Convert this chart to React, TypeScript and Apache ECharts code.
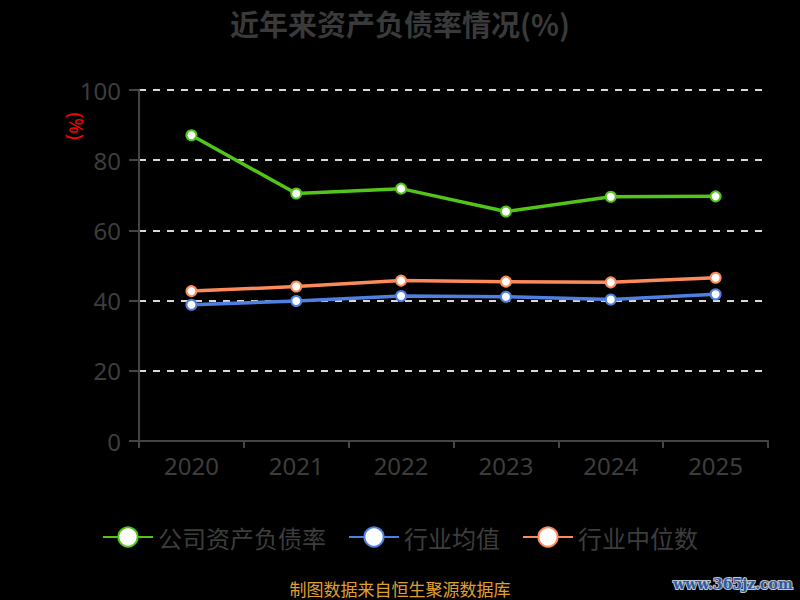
import React, { useEffect, useRef } from "react";
import * as echarts from "echarts";

const categories = ["2020", "2021", "2022", "2023", "2024", "2025"];
const companyRatio = [87.1, 70.5, 71.9, 65.4, 69.6, 69.7];
const industryAvg = [38.8, 39.9, 41.3, 41.1, 40.3, 41.8];
const industryMedian = [42.7, 44.0, 45.7, 45.4, 45.2, 46.5];
const seriesNames = ["公司资产负债率", "行业均值", "行业中位数"];
const seriesColors = ["#52c41a", "#4f80e1", "#fc8a5b"];

export default function App() {
  const ref = useRef<HTMLDivElement>(null);
  useEffect(() => {
    if (!ref.current) return;
    const chart = echarts.init(ref.current, null, { renderer: "svg" });
    const datasets = [companyRatio, industryAvg, industryMedian];
    chart.setOption({
      animation: false,
      backgroundColor: "#000000",
      title: {
        text: "近年来资产负债率情况(%)",
        left: "center",
        top: 3,
        textStyle: { color: "#3a3a3a", fontSize: 29, fontWeight: "bold", fontFamily: "Noto Sans CJK SC" },
      },
      legend: {
        data: seriesNames,
        left: "center",
        top: 520,
        itemWidth: 50,
        itemHeight: 24,
        itemGap: 22,
        textStyle: { color: "#3d3d3d", fontSize: 24, fontFamily: "Noto Sans CJK SC" },
      },
      grid: { left: 139, right: 32, top: 90, bottom: 159 },
      xAxis: {
        type: "category",
        data: categories,
        boundaryGap: true,
        axisLine: { lineStyle: { color: "#444444", width: 2 } },
        axisTick: { show: true, length: 7, lineStyle: { color: "#444444", width: 2 } },
        axisLabel: { color: "#3d3d3d", fontSize: 24, margin: 12, fontFamily: "Noto Sans" },
      },
      yAxis: {
        type: "value",
        min: 0,
        max: 100,
        interval: 20,
        axisLine: { show: true, lineStyle: { color: "#444444", width: 2 } },
        axisTick: { show: true, length: 10, lineStyle: { color: "#444444", width: 2 } },
        axisLabel: { color: "#3d3d3d", fontSize: 24, margin: 18, fontFamily: "Noto Sans" },
        splitLine: { show: true, lineStyle: { color: "#d8d8d8", type: [7, 7], width: 2 } },
      },
      graphic: [
        {
          type: "text",
          x: 76,
          y: 126,
          rotation: -Math.PI / 2,
          style: {
            text: "(%)",
            fill: "#ff0000",
            font: "19px Noto Sans",
            align: "center",
            verticalAlign: "middle",
          },
        },
        {
          type: "text",
          x: 400,
          y: 588,
          style: {
            text: "制图数据来自恒生聚源数据库",
            fill: "#e0a030",
            font: "17px Noto Sans CJK SC",
            align: "center",
            verticalAlign: "middle",
          },
        },
        {
          type: "text",
          x: 733,
          y: 584,
          style: {
            text: "www.365jz.com",
            fill: "#2f5a9c",
            stroke: "#c0c8d4",
            lineWidth: 2,
            font: "bold 14px DejaVu Serif",
            align: "center",
            verticalAlign: "middle",
          },
        },
      ],
      series: seriesNames.map((name, i) => ({
        name,
        type: "line",
        data: datasets[i],
        symbol: "circle",
        symbolSize: 10,
        showSymbol: true,
        lineStyle: { color: seriesColors[i], width: 3.5 },
        itemStyle: { color: "#ffffff", borderColor: seriesColors[i], borderWidth: 2 },
        z: 3 - i,
      })),
    });
    return () => chart.dispose();
  }, []);
  return (
    <div
      ref={ref}
      style={{ position: "fixed", left: 0, top: 0, width: 800, height: 600, background: "#000" }}
    />
  );
}
